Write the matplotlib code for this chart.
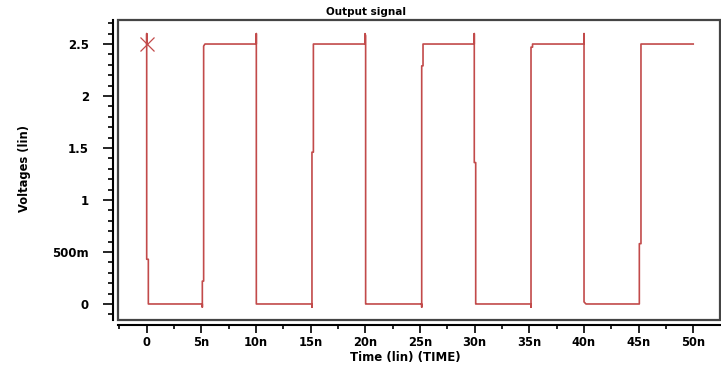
import numpy as np
import matplotlib
matplotlib.use("Agg")
import matplotlib.pyplot as plt
from matplotlib.patches import Rectangle
from matplotlib.ticker import FixedLocator

# waveform (time in ns, voltage in V)
t_ns = [0, 0, 0, 0.15, 0.15,
        5.09, 5.09, 5.09, 5.21, 5.21, 5.33,
        10.03, 10.03, 10.03, 10.15,
        15.12, 15.12, 15.12, 15.25, 15.25,
        19.97, 19.97, 20.03, 20.03, 20.12,
        25.16, 25.16, 25.16, 25.28, 25.28,
        29.97, 29.97, 29.97, 30.1, 30.1, 30.2,
        35.16, 35.16, 35.16, 35.3, 35.3,
        40.01, 40.01, 40.01, 40.19,
        45.07, 45.07, 45.22, 45.22,
        50.0]
v_out = [2.5, 2.6, 0.43, 0.43, 0.0,
         0.0, -0.03, 0.22, 0.22, 2.48, 2.5,
         2.5, 2.6, 0.0, 0.0,
         0.0, -0.03, 1.46, 1.46, 2.5,
         2.5, 2.6, 2.58, 0.0, 0.0,
         0.0, -0.03, 2.29, 2.29, 2.5,
         2.5, 2.6, 1.36, 1.36, 0.0, 0.0,
         0.0, -0.03, 2.47, 2.47, 2.5,
         2.5, 2.6, 0.02, 0.0,
         0.0, 0.58, 0.58, 2.5,
         2.5]

start_t = 0
start_v = 2.5

x_ticks = [0, 5, 10, 15, 20, 25, 30, 35, 40, 45, 50]
x_labels = ["0", "5n", "10n", "15n", "20n", "25n", "30n", "35n", "40n", "45n", "50n"]
y_ticks = [0, 0.5, 1, 1.5, 2, 2.5]
y_labels = ["0", "500m", "1", "1.5", "2", "2.5"]

red = "#c24a4a"

fig = plt.figure(figsize=(7.21, 3.65), dpi=100)
ax = fig.add_axes([118 / 721, 1 - 320 / 365, (720 - 118) / 721, 300 / 365])

ax.plot(t_ns, v_out, color=red, lw=1.2)
ax.plot([start_t], [start_v], marker="x", ms=10, mew=0.9, color=red, ls="none")

ax.set_xlim(-2.625, 52.45)
ax.set_ylim(-0.154, 2.731)

# frame around the plot area
ax.add_patch(Rectangle((0, 0), 1, 1, transform=ax.transAxes, fill=False,
                       ec="#444444", lw=1.6, clip_on=False, zorder=5))

for s in ["top", "right"]:
    ax.spines[s].set_visible(False)
ax.spines["left"].set_position(("outward", 3.6))
ax.spines["bottom"].set_position(("outward", 3.6))
ax.spines["left"].set_linewidth(1.5)
ax.spines["bottom"].set_linewidth(1.5)

ax.set_xticks(x_ticks)
ax.set_xticklabels(x_labels)
ax.set_yticks(y_ticks)
ax.set_yticklabels(y_labels)
ax.xaxis.set_minor_locator(FixedLocator(np.arange(-2.5, 53, 2.5)))
ax.yaxis.set_minor_locator(FixedLocator(np.arange(-0.1, 2.75, 0.1)))

ax.tick_params(axis="y", which="major", direction="out", length=7.2, width=1.2, pad=10)
ax.tick_params(axis="y", which="minor", direction="out", length=3.6, width=1.2)
ax.tick_params(axis="x", which="major", direction="out", length=5.8, width=1.2, pad=2)
ax.tick_params(axis="x", which="minor", direction="out", length=2.9, width=1.2)

for lab in ax.get_yticklabels():
    lab.set_fontweight("bold")
    lab.set_fontsize(8.5)
for lab in ax.get_xticklabels():
    lab.set_fontweight("bold")
    lab.set_fontsize(8.3)

fig.text(366 / 721, 1 - 12 / 365, "Output signal", ha="center", va="center",
         fontsize=7.5, fontweight="bold")
fig.text(405 / 721, 1 - 357 / 365, "Time (lin) (TIME)", ha="center", va="center",
         fontsize=8.5, fontweight="bold")
fig.text(25 / 721, 1 - 169 / 365, "Voltages (lin)", ha="center", va="center",
         rotation=90, fontsize=8.3, fontweight="bold")

fig.savefig("out.png", dpi=100)
